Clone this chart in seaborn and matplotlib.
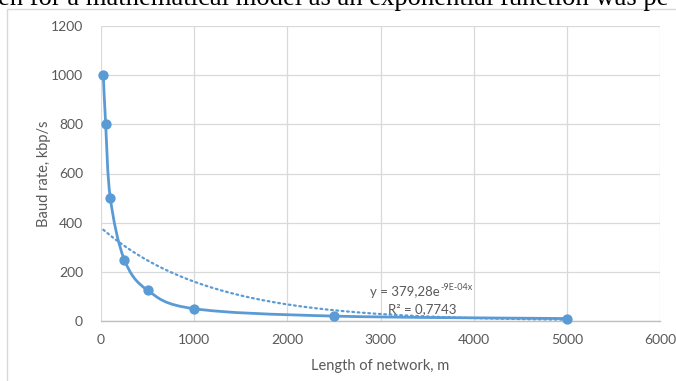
import numpy as np
import pandas as pd
import seaborn as sns
import matplotlib
matplotlib.use("Agg")
import matplotlib.pyplot as plt
from matplotlib.path import Path
from matplotlib.patches import PathPatch, Rectangle

# ---- data ----
length_m = [25, 50, 100, 250, 500, 1000, 2500, 5000]
baud_kbps = [1000, 800, 500, 250, 125, 50, 20, 10]
x_ticks = [0, 1000, 2000, 3000, 4000, 5000, 6000]
y_ticks = [0, 200, 400, 600, 800, 1000, 1200]
trend_base = "y = 379,28e"
trend_exp = "-9E-04x"
r2_label = "R² = 0,7743"
header_text = "en for a mathematical model as an exponential function was pe"

df = pd.DataFrame({"length": length_m, "baud": baud_kbps})

sns.set_theme(style="white")
plt.rcParams["font.family"] = ["Lato", "DejaVu Sans"]

W, H = 676, 381
fig = plt.figure(figsize=(W / 100, H / 100), dpi=100)
fig.patch.set_facecolor("white")

# chart border (only left/top visible)
fig.patches.append(Rectangle((7 / W, -0.1), 1.2, (H - 9) / H + 0.1,
                             transform=fig.transFigure, fill=False,
                             edgecolor="#D9D9D9", linewidth=1.0))
# header text from surrounding document (cut off at the top as in the source)
fig.text(-2 / W, (H - 5) / H, header_text, fontsize=19.2,
         family=["Liberation Serif"], color="black", ha="left", va="baseline")

ax = fig.add_axes([101 / W, (H - 321) / H, (660 - 101) / W, (321 - 26) / H])
ax.set_xlim(0, 6000)
ax.set_ylim(0, 1200)
ax.set_xticks(x_ticks)
ax.set_yticks(y_ticks)
ax.grid(True, color="#D9D9D9", linewidth=0.9)
ax.set_axisbelow(True)
for s in ["top", "right", "left"]:
    ax.spines[s].set_visible(False)
ax.spines["bottom"].set_color("#BFBFBF")
ax.spines["bottom"].set_linewidth(1.0)
ax.tick_params(length=0, labelsize=10, labelcolor="#595959")
ax.tick_params(axis="y", pad=13)
ax.tick_params(axis="x", pad=9)

blue = "#5B9BD5"

# exponential trendline fitted from the data
b, a = np.polyfit(np.array(length_m, float), np.log(baud_kbps), 1)
xt = np.linspace(min(length_m), max(length_m), 400)
ax.plot(xt, np.exp(a) * np.exp(b * xt), color=blue, lw=1.6,
        linestyle=(0, (0.8, 1.6)), dash_capstyle="round", zorder=2)

# smoothed line (Catmull-Rom -> Bezier) through the points
px = np.array(length_m, float)
py = np.array(baud_kbps, float)
verts = [(px[0], py[0])]
codes = [Path.MOVETO]
n = len(px)
for i in range(n - 1):
    p0 = np.array([px[max(i - 1, 0)], py[max(i - 1, 0)]])
    p1 = np.array([px[i], py[i]])
    p2 = np.array([px[i + 1], py[i + 1]])
    p3 = np.array([px[min(i + 2, n - 1)], py[min(i + 2, n - 1)]])
    c1 = p1 + (p2 - p0) / 6.0
    c2 = p2 - (p3 - p1) / 6.0
    verts += [tuple(c1), tuple(c2), tuple(p2)]
    codes += [Path.CURVE4] * 3
ax.add_patch(PathPatch(Path(verts, codes), facecolor="none", edgecolor=blue,
                       lw=2.0, capstyle="round", zorder=3))

sns.scatterplot(data=df, x="length", y="baud", ax=ax, color=blue, s=55,
                edgecolor=blue, linewidth=0, zorder=4, clip_on=False)

ax.set_xlabel("Length of network, m", fontsize=10.5, color="#595959", labelpad=10)
ax.set_ylabel("Baud rate, kbp/s", fontsize=10.5, color="#595959", labelpad=0)

t1 = fig.text(370 / W, (H - 292) / H, trend_base, fontsize=9.5, color="#595959",
              ha="left", va="center")
fig.canvas.draw()
bb = t1.get_window_extent()
fig.text((bb.x1 + 0.5) / W, (H - 287) / H, trend_exp, fontsize=6.5,
         color="#595959", ha="left", va="center")
fig.text(422 / W, (H - 309) / H, r2_label, fontsize=9.5, color="#595959",
         ha="center", va="center")

fig.savefig("out.png", dpi=100)
